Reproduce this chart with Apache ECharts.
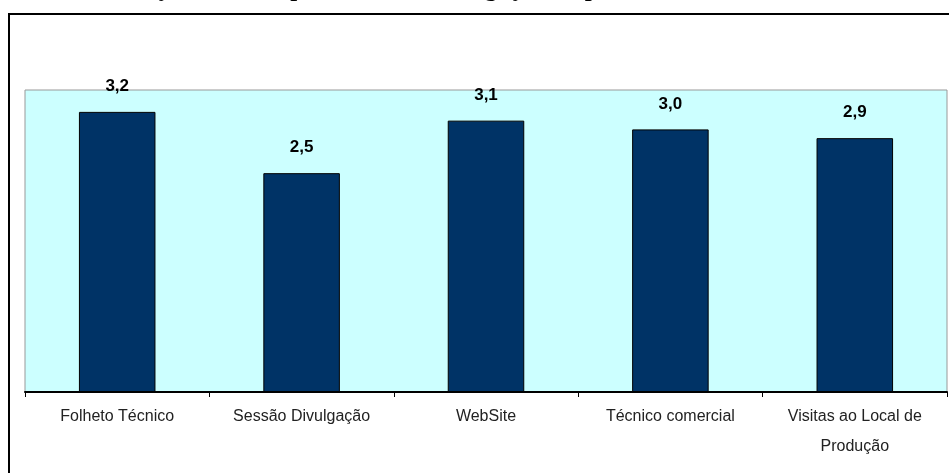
<!DOCTYPE html>
<html>
<head>
<meta charset="utf-8">
<script src="https://cdn.jsdelivr.net/npm/echarts@6/dist/echarts.min.js"></script>
<style>
  html, body { margin: 0; padding: 0; background: #fff; }
  #chart { width: 949px; height: 473px; }
</style>
</head>
<body>
<div id="chart"></div>
<script>
// Categories and average scores
const categories = [
  'Folheto Técnico',
  'Sessão Divulgação',
  'WebSite',
  'Técnico comercial',
  'Visitas ao Local de\nProdução'
];
const scores = [3.2, 2.5, 3.1, 3.0, 2.9];
const chartTitle = 'Gráfico 4 - Acções mais importantes na divulgação do produto';

const chart = echarts.init(document.getElementById('chart'));

chart.setOption({
  animation: false,
  backgroundColor: '#ffffff',
  graphic: [
    {
      type: 'text',
      z: 10,
      style: {
        x: 5,
        y: 2,
        text: chartTitle,
        font: 'bold 25px "Liberation Serif", "Times New Roman", serif',
        fill: '#000',
        verticalAlign: 'bottom'
      }
    },
    {
      type: 'rect',
      z: 10,
      shape: { x: 9, y: 14, width: 1000, height: 1000 },
      style: { fill: 'none', stroke: '#000', lineWidth: 2 }
    }
  ],
  grid: {
    left: 25,
    right: 2,
    top: 90,
    bottom: 81,
    show: true,
    backgroundColor: '#CCFFFF',
    borderColor: '#999999',
    borderWidth: 1
  },
  xAxis: {
    type: 'category',
    data: categories,
    boundaryGap: true,
    axisLine: { show: true, lineStyle: { color: '#000', width: 2 } },
    axisTick: { show: true, length: 5, alignWithLabel: false, lineStyle: { color: '#000', width: 1 } },
    axisLabel: {
      interval: 0,
      margin: 10,
      fontFamily: '"Liberation Sans", Arial, sans-serif',
      fontSize: 16,
      lineHeight: 30,
      color: '#222'
    },
    splitLine: { show: false }
  },
  yAxis: {
    type: 'value',
    min: 0,
    max: 3.45,
    show: false,
    splitLine: { show: false }
  },
  series: [{
    type: 'bar',
    data: scores,
    barWidth: '41.5%',
    itemStyle: { color: '#003366', borderColor: '#000', borderWidth: 1 },
    label: {
      show: true,
      position: 'top',
      distance: 17,
      fontFamily: '"Liberation Sans", Arial, sans-serif',
      fontSize: 17,
      fontWeight: 'bold',
      color: '#000',
      formatter: p => p.value.toFixed(1).replace('.', ',')
    }
  }]
});
</script>
</body>
</html>
